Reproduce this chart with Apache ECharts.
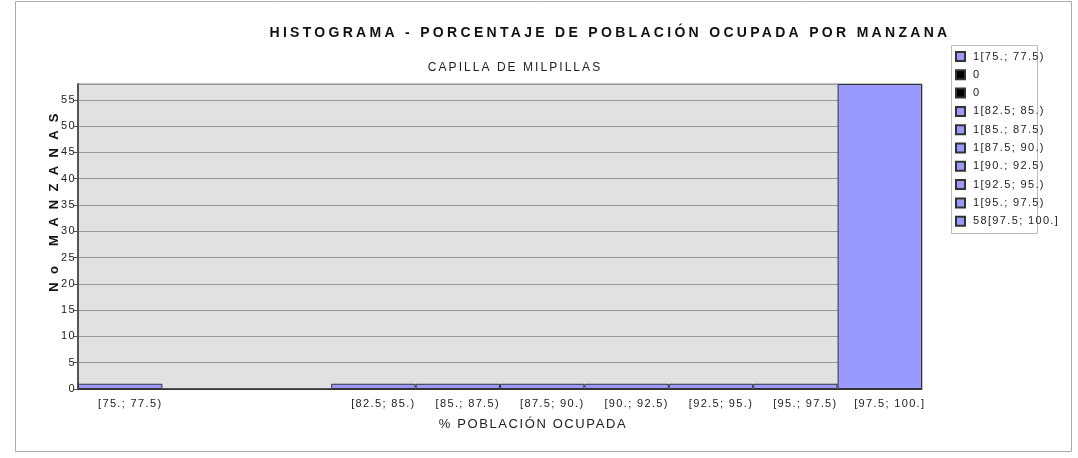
<!DOCTYPE html>
<html>
<head>
<meta charset="utf-8">
<script src="https://cdn.jsdelivr.net/npm/echarts@6/dist/echarts.min.js"></script>
<style>
html, body { margin: 0; padding: 0; background: #fff; }
#chart { width: 1078px; height: 458px; }
</style>
</head>
<body>
<div id="chart"></div>
<script>
// histogram bins and counts
var categories = ['[75.; 77.5)', '[77.5; 80.)', '[80.; 82.5)', '[82.5; 85.)', '[85.; 87.5)',
    '[87.5; 90.)', '[90.; 92.5)', '[92.5; 95.)', '[95.; 97.5)', '[97.5; 100.]'];
var counts = [1, 0, 0, 1, 1, 1, 1, 1, 1, 58];
var yMax = 58;
var yStep = 5;

// the original chart spaces its letters out; canvas can do that per font
var spacing = { 'b14': 3.3, '12': 2.05, 'b13': 8.3, '13': 1.6, '11': 1.35 };
var rawFillText = CanvasRenderingContext2D.prototype.fillText;
CanvasRenderingContext2D.prototype.fillText = function (t, x, y, w) {
    var m = /(bold\s+)?(\d+)px/.exec(this.font);
    var key = m ? (m[1] ? 'b' : '') + m[2] : '';
    this.letterSpacing = (spacing[key] || 0) + 'px';
    return w === undefined ? rawFillText.call(this, t, x, y) : rawFillText.call(this, t, x, y, w);
};

var font = "'Liberation Sans', Arial, sans-serif";

var series = categories.map(function (name, i) {
    return {
        name: name,
        type: 'bar',
        stack: 'bins',
        barCategoryGap: '0%',
        data: categories.map(function (c, j) { return j === i ? counts[i] : '-'; }),
        itemStyle: {
            color: counts[i] ? '#9999ff' : '#000',
            borderColor: '#333',
            borderWidth: 1
        },
        emphasis: { disabled: true }
    };
});

var myChart = echarts.init(document.getElementById('chart'));
var option = {
    animation: false,
    textStyle: { fontFamily: font },
    title: [
        {
            text: 'HISTOGRAMA - PORCENTAJE DE POBLACIÓN OCUPADA POR MANZANA',
            left: 605, top: 21, textAlign: 'center',
            textStyle: { fontFamily: font, fontSize: 14, fontWeight: 'bold', color: '#111' }
        },
        {
            text: 'CAPILLA DE MILPILLAS',
            left: 510, top: 57, textAlign: 'center',
            textStyle: { fontFamily: font, fontSize: 12, fontWeight: 'normal', color: '#222' }
        }
    ],
    legend: {
        orient: 'vertical',
        left: 955, top: 51,
        padding: 0,
        itemWidth: 9, itemHeight: 9, itemGap: 7.3,
        icon: 'rect',
        selectedMode: false,
        textStyle: { fontFamily: font, fontSize: 11, color: '#222', padding: [0, 0, 0, 3] },
        formatter: function (name) {
            var i = categories.indexOf(name);
            return counts[i] ? counts[i] + name : '0';
        },
        data: categories
    },
    graphic: [
        { type: 'rect', z: -10, shape: { x: 15.5, y: 1.5, width: 1056, height: 450 },
          style: { fill: 'none', stroke: '#aaa', lineWidth: 1 } },
        { type: 'rect', z: -10, shape: { x: 951.5, y: 45.5, width: 86, height: 188 },
          style: { fill: 'none', stroke: '#bbb', lineWidth: 1 } }
    ],
    grid: {
        show: true,
        left: 78, right: 156, top: 84, bottom: 69,
        backgroundColor: '#e1e1e1',
        borderColor: '#888',
        borderWidth: 1
    },
    xAxis: {
        type: 'category',
        data: categories,
        name: '% POBLACIÓN OCUPADA',
        nameLocation: 'middle',
        nameGap: 29,
        nameTextStyle: { fontFamily: font, fontSize: 13, color: '#222', padding: [0, 0, 0, 66] },
        axisLine: { lineStyle: { color: '#333', width: 1 } },
        axisTick: {
            alignWithLabel: true, length: 5, lineStyle: { color: '#333' },
            interval: function (i) { return counts[i] > 0; }
        },
        axisLabel: {
            interval: 0, margin: 9, fontSize: 11, color: '#222', padding: [0, 0, 0, 20],
            formatter: function (v, i) { return counts[i] ? v : ''; }
        }
    },
    yAxis: {
        type: 'value',
        min: 0, max: yMax, interval: yStep,
        name: 'No MANZANAS',
        nameLocation: 'middle',
        nameGap: 17,
        nameMoveOverlap: false,
        nameTextStyle: { fontFamily: font, fontSize: 13, fontWeight: 'bold', color: '#111', padding: [0, 0, 0, 76] },
        axisLine: { show: true, lineStyle: { color: '#555', width: 2 } },
        axisTick: { show: true, length: 4, lineStyle: { color: '#555' } },
        axisLabel: { fontSize: 11, color: '#222', margin: 2, showMaxLabel: false },
        splitLine: { lineStyle: { color: '#999', width: 1 } }
    },
    series: series
};
myChart.setOption(option);
</script>
</body>
</html>
